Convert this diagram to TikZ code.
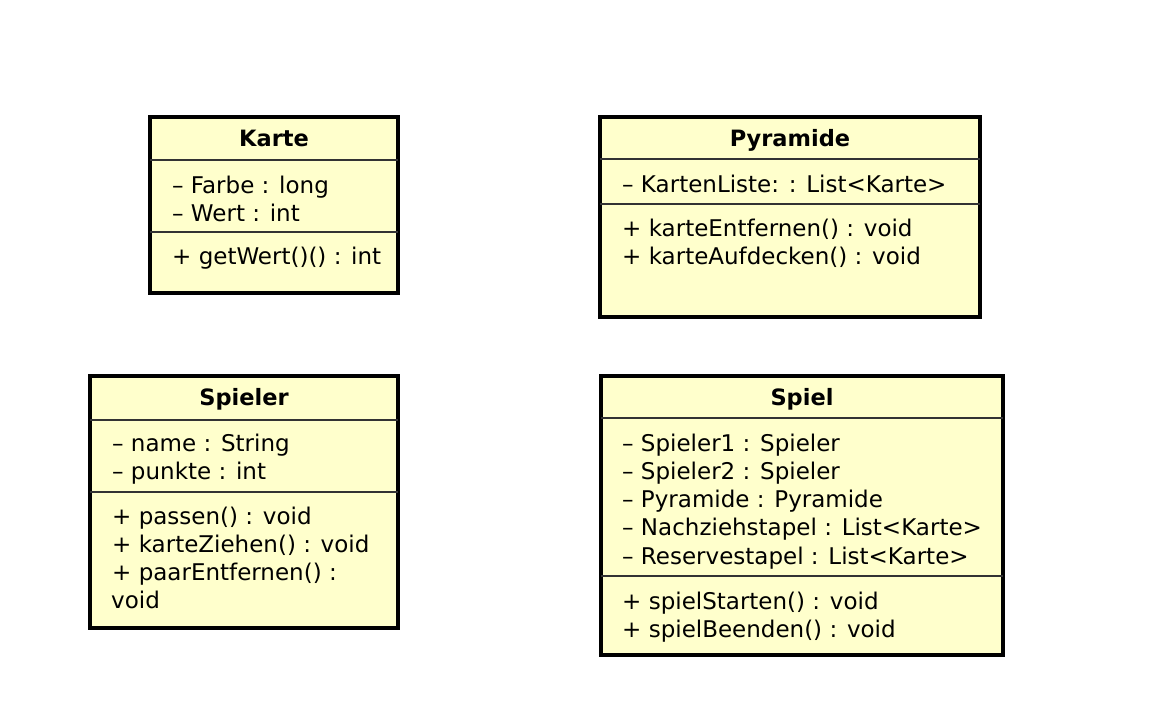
\documentclass[tikz,border=0pt]{standalone}
\usepackage{fontspec}
\setmainfont{DejaVu Sans}
\definecolor{classfill}{RGB}{255,255,204}
\tikzset{
  classbox/.style={draw=black, line width=3.5pt, fill=classfill, inner sep=0pt, outer sep=0pt, anchor=north west},
  divider/.style={black!80, line width=1.3pt},
  title/.style={font=\bfseries\fontsize{22.5}{27}\selectfont, inner sep=0pt, anchor=base},
  member/.style={font=\fontsize{23}{27}\selectfont, inner sep=0pt, anchor=base west},
}
\begin{document}
\begin{tikzpicture}[x=1pt,y=-1pt]
    \useasboundingbox (0,0) rectangle (1170,708);

    % Karte (top left)
    \node[classbox, minimum width=248pt, minimum height=176pt] (karte) at (150,117) {};
    \draw[divider] (karte.west |- 0,160) -- (karte.east |- 0,160);
    \draw[divider] (karte.west |- 0,232) -- (karte.east |- 0,232);
    \node[title] (karteT) at (karte.center |- 0,147) {Karte};
    \node[member] (karteA1) at (172,194) {– Farbe : long};
    \node[member] (karteA2) at (172,222) {– Wert : int};
    \node[member] (karteM1) at (172,265) {+ getWert()() : int};

    % Pyramide (top right)
    \node[classbox, minimum width=380pt, minimum height=200pt] (pyramide) at (600,117) {};
    \draw[divider] (pyramide.west |- 0,159) -- (pyramide.east |- 0,159);
    \draw[divider] (pyramide.west |- 0,204) -- (pyramide.east |- 0,204);
    \node[title] (pyramideT) at (pyramide.center |- 0,147) {Pyramide};
    \node[member] (pyramideA1) at (622,193) {– KartenListe: : List<Karte>};
    \node[member] (pyramideM1) at (622,237) {+ karteEntfernen() : void};
    \node[member] (pyramideM2) at (622,265) {+ karteAufdecken() : void};

    % Spieler (bottom left)
    \node[classbox, minimum width=308pt, minimum height=252pt] (spieler) at (90,376) {};
    \draw[divider] (spieler.west |- 0,420) -- (spieler.east |- 0,420);
    \draw[divider] (spieler.west |- 0,492) -- (spieler.east |- 0,492);
    \node[title] (spielerT) at (spieler.center |- 0,406) {Spieler};
    \node[member] (spielerA1) at (112,451) {– name : String};
    \node[member] (spielerA2) at (112,479) {– punkte : int};
    \node[member] (spielerM1) at (112,524) {+ passen() : void};
    \node[member] (spielerM2) at (112,552) {+ karteZiehen() : void};
    \node[member] (spielerM3) at (112,580) {+ paarEntfernen() :};
    \node[member] (spielerM3b) at (111,608) {void};

    % Spiel (bottom right)
    \node[classbox, minimum width=402pt, minimum height=279pt] (spiel) at (601,376) {};
    \draw[divider] (spiel.west |- 0,418) -- (spiel.east |- 0,418);
    \draw[divider] (spiel.west |- 0,576) -- (spiel.east |- 0,576);
    \node[title] (spielT) at (spiel.center |- 0,406) {Spiel};
    \node[member] (spielA1) at (622,451) {– Spieler1 : Spieler};
    \node[member] (spielA2) at (622,479) {– Spieler2 : Spieler};
    \node[member] (spielA3) at (622,507) {– Pyramide : Pyramide};
    \node[member] (spielA4) at (622,535) {– Nachziehstapel : List<Karte>};
    \node[member] (spielA5) at (622,564) {– Reservestapel : List<Karte>};
    \node[member] (spielM1) at (622,609) {+ spielStarten() : void};
    \node[member] (spielM2) at (622,637) {+ spielBeenden() : void};

\end{tikzpicture}
\end{document}
